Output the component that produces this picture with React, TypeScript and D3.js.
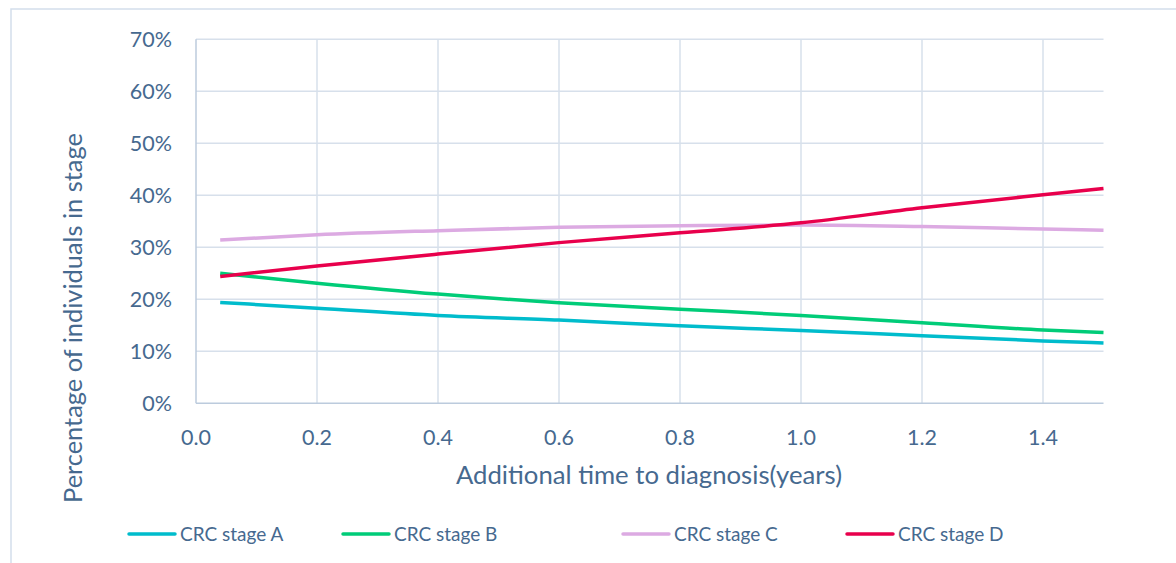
import React from "react";
import * as d3 from "d3";

const years = [0.04, 0.2, 0.4, 0.6, 0.8, 1.0, 1.2, 1.4, 1.5];
const stageA = [19.4, 18.3, 16.9, 16.0, 14.9, 14.0, 13.0, 12.0, 11.6];
const stageB = [25.0, 23.1, 21.0, 19.35, 18.1, 16.9, 15.5, 14.1, 13.6];
const stageC = [31.4, 32.4, 33.2, 33.85, 34.15, 34.3, 34.0, 33.5, 33.3];
const stageD = [24.4, 26.4, 28.7, 30.9, 32.8, 34.7, 37.6, 40.1, 41.3];
const seriesNames = ["CRC stage A", "CRC stage B", "CRC stage C", "CRC stage D"];
const seriesColors = ["#00bccc", "#00cc78", "#dcaae2", "#e8004c"];
const xTicks = [0.0, 0.2, 0.4, 0.6, 0.8, 1.0, 1.2, 1.4];
const yTicks = [0, 10, 20, 30, 40, 50, 60, 70];

const W = 1176;
const H = 563;
const FONT = "Lato, 'Noto Sans', sans-serif";
const TEXT = "#46698f";

export default function App() {
  const x = d3.scaleLinear().domain([0, 1.5]).range([196, 1103.5]);
  const y = d3.scaleLinear().domain([0, 70]).range([403.3, 39.3]);
  const allSeries = [stageA, stageB, stageC, stageD];
  const line = d3
    .line<number>()
    .x((_, i) => x(years[i]))
    .y((d) => y(d))
    .curve(d3.curveMonotoneX);

  const legendX = [129, 343, 623, 847];

  return (
    <div style={{ position: "absolute", left: 0, top: 0 }}>
      <svg width={W} height={H} style={{ display: "block", fontFamily: FONT }}>
        <rect x={0} y={0} width={W} height={H} fill="#ffffff" />
        <rect x={11} y={9} width={W} height={H} fill="none" stroke="#d3deeb" strokeWidth={1.5} />
        {/* grid */}
        {yTicks.slice(1).map((t) => (
          <line key={"gy" + t} x1={x(0)} x2={x(1.5)} y1={y(t)} y2={y(t)} stroke="#d7e0eb" strokeWidth={1.5} />
        ))}
        {xTicks.slice(1).map((t) => (
          <line key={"gx" + t} x1={x(t)} x2={x(t)} y1={y(70)} y2={y(0)} stroke="#d7e0eb" strokeWidth={1.5} />
        ))}
        {/* axes */}
        <line x1={x(0)} x2={x(0)} y1={y(70)} y2={y(0)} stroke="#bccbdd" strokeWidth={1.5} />
        <line x1={x(0)} x2={x(1.5)} y1={y(0)} y2={y(0)} stroke="#bccbdd" strokeWidth={1.5} />
        {yTicks.map((t) => (
          <text key={"ty" + t} x={172} y={y(t)} dy="0.35em" textAnchor="end" fontSize={21.5} fill={TEXT}>
            {t + "%"}
          </text>
        ))}
        {xTicks.map((t) => (
          <text key={"tx" + t} x={x(t)} y={437} dy="0.35em" textAnchor="middle" fontSize={21.5} fill={TEXT}>
            {t.toFixed(1)}
          </text>
        ))}
        <text x={649} y={484} textAnchor="middle" fontSize={25.7} fill={TEXT}>
          Additional time to diagnosis(years)
        </text>
        <text
          transform={`translate(82,318) rotate(-90)`}
          textAnchor="middle"
          fontSize={25.4}
          fill={TEXT}
        >
          Percentage of individuals in stage
        </text>
        {/* series */}
        {allSeries.map((s, i) => (
          <path key={"s" + i} d={line(s) || ""} fill="none" stroke={seriesColors[i]} strokeWidth={3.5} />
        ))}
        {/* legend */}
        {seriesNames.map((n, i) => (
          <g key={"l" + i}>
            <line x1={legendX[i]} x2={legendX[i] + 46} y1={534} y2={534} stroke={seriesColors[i]} strokeWidth={3.5} strokeLinecap="round" />
            <text x={legendX[i] + 51} y={534} dy="0.35em" fontSize={19} fill={TEXT}>
              {n}
            </text>
          </g>
        ))}
      </svg>
    </div>
  );
}
